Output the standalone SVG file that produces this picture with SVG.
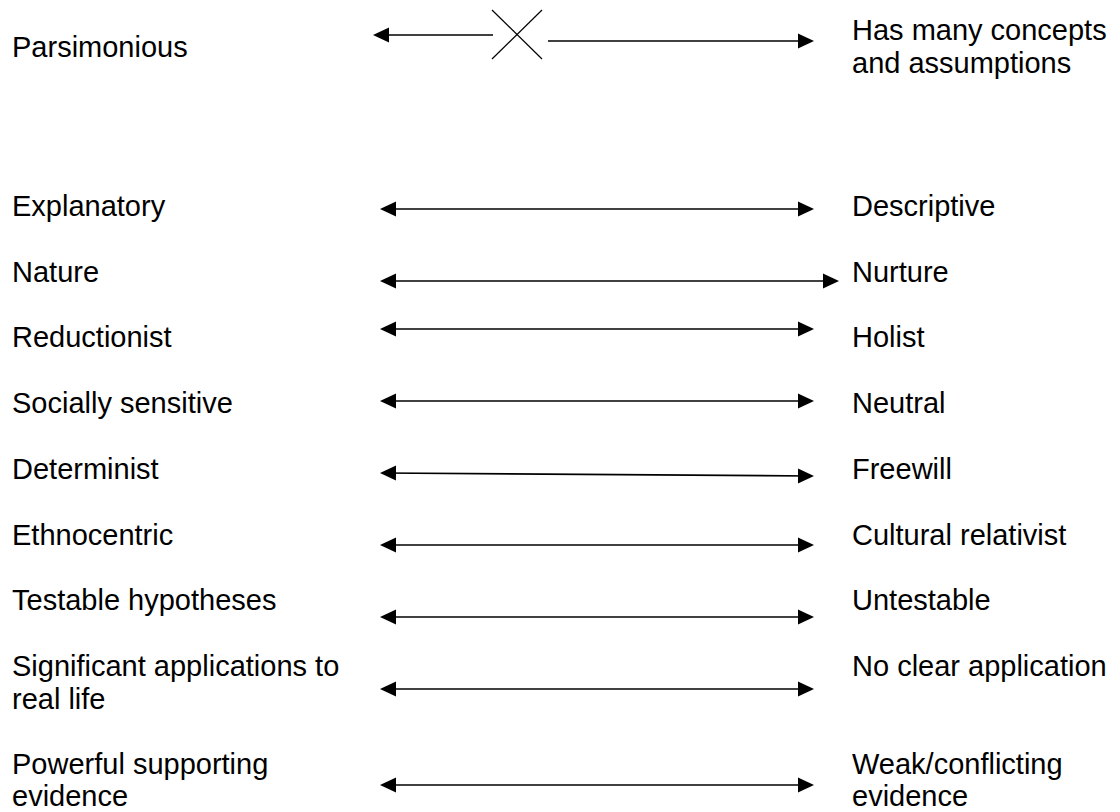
<svg xmlns="http://www.w3.org/2000/svg" width="1120" height="812" viewBox="0 0 1120 812">
<style>
text{font-family:"Liberation Sans",Arial,sans-serif;font-size:29px;fill:#000}
.c line{stroke:#000;stroke-width:1.6;fill:none}
.c .x{stroke-width:1.2}
</style>
<defs>
<marker id="ah" markerUnits="userSpaceOnUse" markerWidth="16" markerHeight="16" refX="14" refY="8" orient="auto-start-reverse">
<path d="M0,0.5 L16,8 L0,15.5 z" fill="#000"/>
</marker>
</defs>
<rect width="1120" height="812" fill="#fff"/>
<g id="row-parsimonious"><text x="12" y="57">Parsimonious</text></g>
<g id="row-many-concepts"><text x="852" y="40">Has many concepts</text><text x="852" y="73">and assumptions</text></g>
<g id="row-explanatory"><text x="12" y="216">Explanatory</text></g>
<g id="row-descriptive"><text x="852" y="216">Descriptive</text></g>
<g id="row-nature"><text x="12" y="282">Nature</text></g>
<g id="row-nurture"><text x="852" y="282">Nurture</text></g>
<g id="row-reductionist"><text x="12" y="347">Reductionist</text></g>
<g id="row-holist"><text x="852" y="347">Holist</text></g>
<g id="row-socially"><text x="12" y="413">Socially sensitive</text></g>
<g id="row-neutral"><text x="852" y="413">Neutral</text></g>
<g id="row-determinist"><text x="12" y="479">Determinist</text></g>
<g id="row-freewill"><text x="852" y="479">Freewill</text></g>
<g id="row-ethnocentric"><text x="12" y="545">Ethnocentric</text></g>
<g id="row-cultural"><text x="852" y="545">Cultural relativist</text></g>
<g id="row-testable"><text x="12" y="610">Testable hypotheses</text></g>
<g id="row-untestable"><text x="852" y="610">Untestable</text></g>
<g id="row-significant"><text x="12" y="676">Significant applications to</text><text x="12" y="709">real life</text></g>
<g id="row-noclear"><text x="852" y="676">No clear application</text></g>
<g id="row-powerful"><text x="12" y="774">Powerful supporting</text><text x="12" y="806">evidence</text></g>
<g id="row-weak"><text x="852" y="774">Weak/conflicting</text><text x="852" y="806">evidence</text></g>
<g id="connectors" class="c">
<line x1="493" y1="35" x2="375" y2="35" marker-end="url(#ah)"/>
<line class="x" x1="492" y1="10" x2="542" y2="59"/>
<line class="x" x1="492" y1="59" x2="542" y2="10"/>
<line x1="548" y1="41" x2="812" y2="41" marker-end="url(#ah)"/>
<line x1="382" y1="209" x2="812" y2="209" marker-start="url(#ah)" marker-end="url(#ah)"/>
<line x1="382" y1="281" x2="837" y2="281" marker-start="url(#ah)" marker-end="url(#ah)"/>
<line x1="382" y1="329" x2="812" y2="329" marker-start="url(#ah)" marker-end="url(#ah)"/>
<line x1="382" y1="401" x2="812" y2="401" marker-start="url(#ah)" marker-end="url(#ah)"/>
<line x1="382" y1="473" x2="812" y2="476" marker-start="url(#ah)" marker-end="url(#ah)"/>
<line x1="382" y1="545" x2="812" y2="545" marker-start="url(#ah)" marker-end="url(#ah)"/>
<line x1="382" y1="617" x2="812" y2="617" marker-start="url(#ah)" marker-end="url(#ah)"/>
<line x1="382" y1="689" x2="812" y2="689" marker-start="url(#ah)" marker-end="url(#ah)"/>
<line x1="382" y1="785" x2="812" y2="785" marker-start="url(#ah)" marker-end="url(#ah)"/>
</g>
</svg>
